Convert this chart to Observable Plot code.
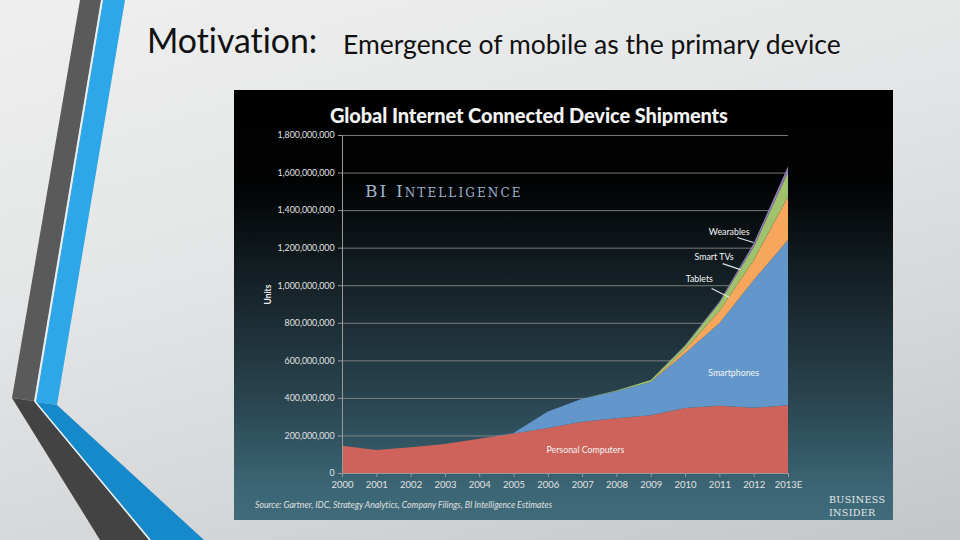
<!DOCTYPE html>
<html><head><meta charset="utf-8">
<script src="https://cdn.jsdelivr.net/npm/d3@7"></script>
<script src="https://cdn.jsdelivr.net/npm/@observablehq/plot@0.6"></script>
<style>
html,body{margin:0;padding:0;width:960px;height:540px;overflow:hidden;}
body{position:relative;font-family:Lato,"Open Sans",sans-serif;font-variant-ligatures:none;
  background:linear-gradient(165deg,#efefef 0%,#e3e5e6 40%,#d5d7d8 70%,#c3c6c8 100%);}
#deco{position:absolute;left:0;top:0;}
.h1{position:absolute;left:147px;top:20px;font-size:33.8px;color:#111;white-space:nowrap;}
.h2{position:absolute;left:343px;top:28px;font-size:26.5px;color:#111;white-space:nowrap;}
#chart{position:absolute;left:234px;top:90px;width:659px;height:430px;overflow:hidden;
  background:linear-gradient(to bottom,#000 0%,#020304 22%,#111b20 40%,#1f323a 58%,#2c4955 75%,#3b6574 92%,#3f6b7a 100%);}
#chart svg{position:absolute;left:0;top:0;}
.ctitle{position:absolute;left:96px;top:13px;font-size:20px;font-weight:900;color:#f2f2f2;white-space:nowrap;letter-spacing:-0.1px;}
.bi{position:absolute;left:131px;top:91px;font-family:"DejaVu Serif",serif;font-variant:small-caps;font-size:17px;letter-spacing:2.1px;color:#9db4cc;white-space:nowrap;}
.src{position:absolute;left:21px;top:409px;font-size:8.7px;font-style:italic;color:#e0e0e0;white-space:nowrap;}
.bin{position:absolute;left:595px;top:403px;font-family:"DejaVu Serif",serif;font-size:9.6px;line-height:13px;letter-spacing:0.3px;color:#e4e8ea;white-space:nowrap;}
</style></head>
<body>
<svg id="deco" width="240" height="540">
  <polygon points="80,0 101,0 34,401 12,398" fill="#5a5a5a"/>
  <polygon points="12,398 34,401 149,540 100,540" fill="#434343"/>
  <polygon points="103,0 125,0 57,405 36,402" fill="#2da7e8"/>
  <polygon points="36,402 57,405 204,540 151,540" fill="#1589c9"/>
  <polyline points="102,0 35,401.5 150,540" fill="none" stroke="#e8eef2" stroke-width="1.4"/>
</svg>
<div class="h1">Motivation:</div>
<div class="h2">Emergence of mobile as the primary device</div>
<div id="chart">
  <div class="ctitle">Global Internet Connected Device Shipments</div>
  <div class="bi">BI Intelligence</div>
  <div class="src">Source: Gartner, IDC, Strategy Analytics, Company Filings, BI Intelligence Estimates</div>
  <div class="bin">BUSINESS<br>INSIDER</div>
</div>
<script>
// ---- data (millions of units) ----
const years = [2000,2001,2002,2003,2004,2005,2006,2007,2008,2009,2010,2011,2012,2013];
const yearLabels = ["2000","2001","2002","2003","2004","2005","2006","2007","2008","2009","2010","2011","2012","2013E"];
const seriesNames = ["Personal Computers","Smartphones","Tablets","Smart TVs","Wearables"];
const personalComputers = [145,122,137,154,182,211,240,273,292,308,346,358,347,361];
const smartphones       = [0,0,0,0,0,2,88,122,143,176,292,440,680,880];
const tablets           = [0,0,0,0,0,0,0,0,0,1,20,65,106,232];
const smartTVs          = [0,0,0,0,0,0,0,0,5,10,20,42,71,130];
const wearables         = [0,0,0,0,0,0,0,0,0,0,3,8,19,30];
const seriesColors = ["#cd635b","#6396ca","#f6a65d","#a0c26c","#8f7bb6"];
const yTicks = [0,200e6,400e6,600e6,800e6,1000e6,1200e6,1400e6,1600e6,1800e6];

// annotation labels (data space: year, units)
const labelText = ["Wearables","Smart TVs","Tablets","Smartphones","Personal Computers"];
const labelYear = [2011.27,2010.83,2010.40,2011.40,2007.08];
const labelValue = [1283e6,1150e6,1033e6,532e6,122e6];
const leaderX1 = [2011.51,2011.08,2010.76];
const leaderY1 = [1257e6,1118e6,985e6];
const leaderX2 = [2011.98,2011.60,2011.28];
const leaderY2 = [1230e6,1086e6,937e6];

const allSeries = [personalComputers,smartphones,tablets,smartTVs,wearables];
const table = [];
seriesNames.forEach((s,i)=>years.forEach((yr,j)=>table.push({series:s,year:yr,value:allSeries[i][j]*1e6})));
const labels = labelText.map((t,i)=>({t,x:labelYear[i],y:labelValue[i]}));
const leaders = leaderX1.map((x,i)=>({x1:x,y1:leaderY1[i],x2:leaderX2[i],y2:leaderY2[i]}));

const chart = Plot.plot({
  width:659, height:430,
  marginLeft:108, marginRight:105, marginTop:45, marginBottom:47,
  style:{background:"transparent", color:"#dedede", fontFamily:"Lato, sans-serif", fontSize:"8.5px", overflow:"visible"},
  x:{domain:[2000,2013], label:null},
  y:{domain:[0,1.8e9], label:null},
  color:{domain:seriesNames, range:seriesColors},
  marks:[
    Plot.gridY(yTicks,{stroke:"#8c8c8c", strokeOpacity:0.85, strokeWidth:1}),
    Plot.areaY(table,{x:"year", y:"value", fill:"series", order:seriesNames, curve:"linear"}),
    Plot.ruleX([2000],{stroke:"#9a9a9a", strokeWidth:1}),
    Plot.ruleY([0],{stroke:"#9a9a9a", strokeWidth:1}),
    Plot.axisY({ticks:yTicks, tickFormat:d3.format(","), tickSize:4, tickPadding:4, stroke:"#9a9a9a", fill:"#e2e2e2", fontSize:8.8}),
    Plot.axisX({ticks:years, tickFormat:(d)=>yearLabels[years.indexOf(d)], tickSize:4, tickPadding:4, stroke:"#9a9a9a", fill:"#e2e2e2", fontSize:9.5}),
    Plot.text(["Units"],{frameAnchor:"left", dx:-74, rotate:-90, fill:"#eeeeee", fontWeight:"bold", fontSize:8.5}),
    Plot.link(leaders,{x1:"x1", y1:"y1", x2:"x2", y2:"y2", stroke:"#dfe3e6", strokeWidth:1.2}),
    Plot.text(labels,{x:"x", y:"y", text:"t", fill:"#f6f6f6", fontSize:8.8})
  ]
});
document.getElementById("chart").appendChild(chart);
</script>
</body></html>
